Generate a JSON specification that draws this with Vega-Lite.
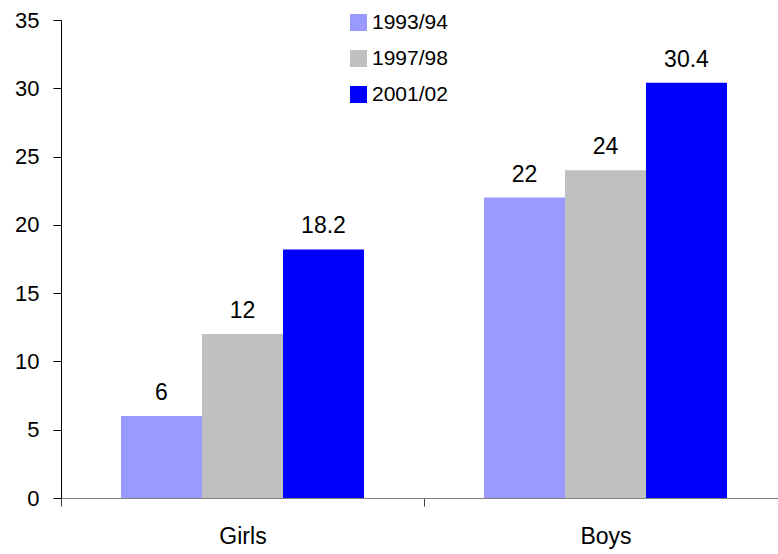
{
  "$schema": "https://vega.github.io/schema/vega-lite/v6.json",
  "width": 717,
  "height": 478,
  "autosize": "none",
  "padding": {"left": 61, "top": 20, "right": 0, "bottom": 56},
  "background": "white",
  "config": {"view": {"stroke": null}, "font": "Liberation Sans"},
  "data": {
    "values": [
      {"group": "Girls", "year": "1993/94", "value": 6},
      {"group": "Girls", "year": "1997/98", "value": 12},
      {"group": "Girls", "year": "2001/02", "value": 18.2},
      {"group": "Boys", "year": "1993/94", "value": 22},
      {"group": "Boys", "year": "1997/98", "value": 24},
      {"group": "Boys", "year": "2001/02", "value": 30.4}
    ]
  },
  "encoding": {
    "x": {
      "field": "group",
      "type": "nominal",
      "sort": ["Girls", "Boys"],
      "scale": {"paddingInner": 0, "paddingOuter": 0, "range": [0, 726]},
      "axis": {
        "title": null,
        "labelAngle": 0,
        "labelFontSize": 23,
        "labelColor": "black",
        "labelPadding": 19,
        "domainColor": "#808080",
        "tickColor": "#404040",
        "tickSize": 8,
        "tickBand": "extent"
      }
    },
    "xOffset": {
      "field": "year",
      "type": "nominal",
      "scale": {"paddingInner": 0, "paddingOuter": 0.741}
    },
    "y": {
      "field": "value",
      "type": "quantitative",
      "scale": {"domain": [0, 35]},
      "axis": {
        "title": null,
        "values": [0, 5, 10, 15, 20, 25, 30, 35],
        "grid": false,
        "labelFontSize": 22,
        "labelColor": "black",
        "labelPadding": 14,
        "domainColor": "black",
        "tickColor": "black",
        "tickSize": 8
      }
    }
  },
  "layer": [
    {
      "mark": {"type": "bar"},
      "encoding": {
        "color": {
          "field": "year",
          "type": "nominal",
          "scale": {"domain": ["1993/94", "1997/98", "2001/02"], "range": ["#9999FF", "#C0C0C0", "#0000FF"]},
          "legend": {
            "title": null,
            "orient": "none",
            "legendX": 287,
            "legendY": -8,
            "padding": 0,
            "symbolType": "square",
            "symbolSize": 289,
            "symbolStrokeWidth": 0,
            "labelFontSize": 21,
            "labelColor": "black",
            "labelOffset": 3,
            "rowPadding": 14
          }
        }
      }
    },
    {
      "mark": {"type": "text", "baseline": "alphabetic", "dy": -16, "fontSize": 23, "color": "black"},
      "encoding": {"text": {"field": "value", "type": "quantitative"}}
    }
  ]
}
